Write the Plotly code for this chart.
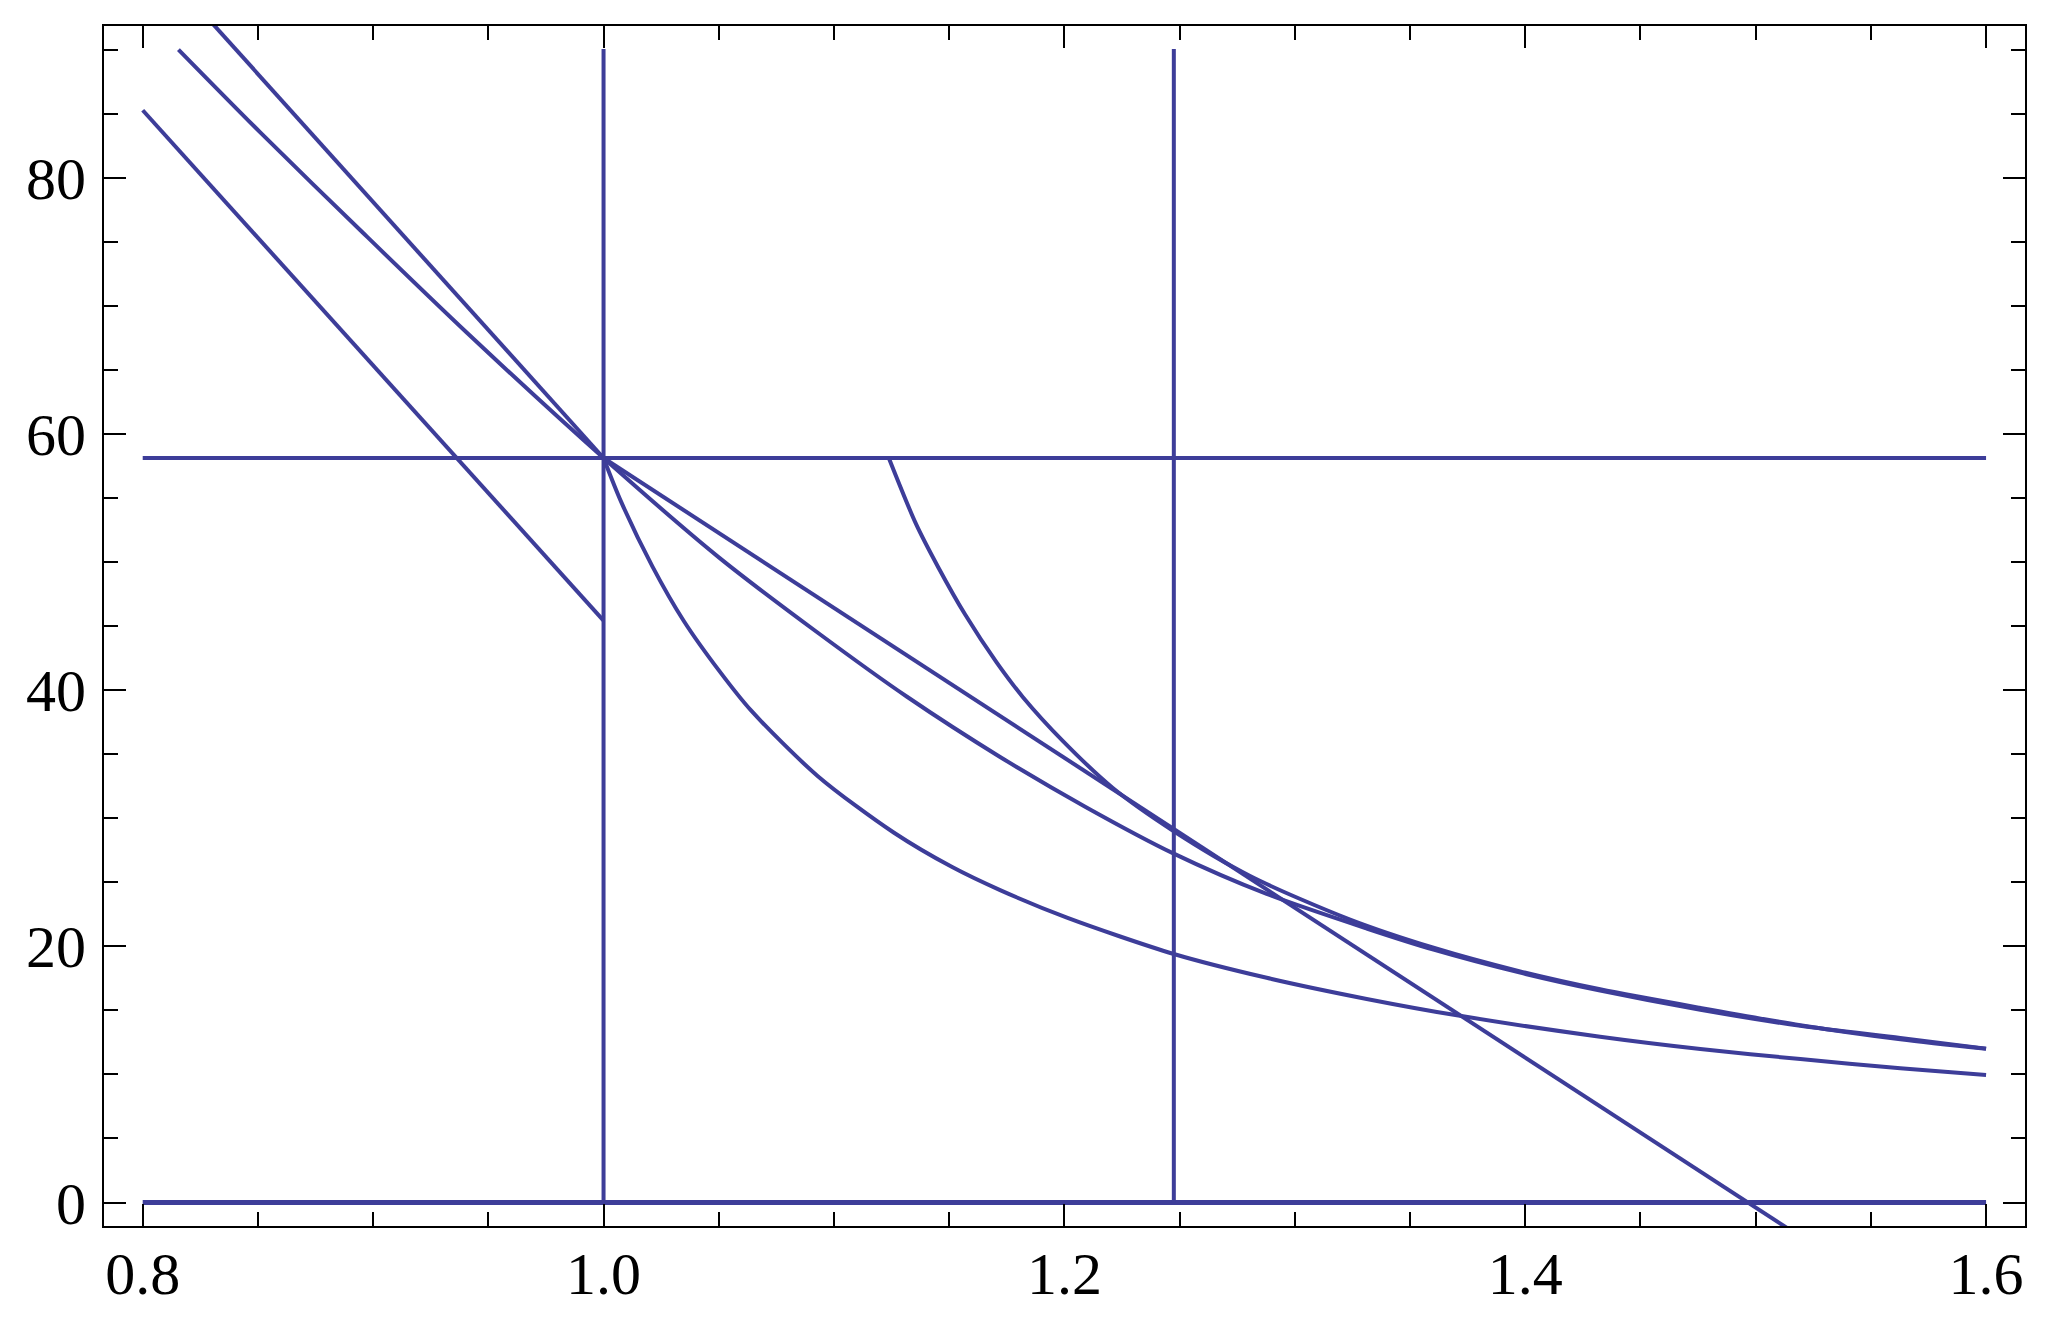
import plotly.graph_objects as go

# values
line_color = '#3D3D99'

# steep straight line through the common point (clipped by the frame at the top)
a_x = [0.8307, 1.0]
a_y = [92.0, 58.15]

# parallel straight line, lower left
c_x = [0.8, 1.0]
c_y = [85.31, 45.45]

# convex curve through the common point
b_x = [0.8155, 0.8509, 0.8958, 0.9406, 1.0, 1.0503, 1.0930, 1.1317, 1.1721, 1.2092,
       1.2475, 1.2878, 1.3312, 1.3602, 1.3978, 1.4325, 1.4760, 1.5194, 1.5628, 1.6]
b_y = [90.05, 83.6, 75.7, 67.95, 58.15, 50.35, 44.5, 39.5, 34.8, 30.9,
       27.25, 24.1, 21.4, 19.75, 17.95, 16.55, 15.05, 13.8, 12.85, 12.02]

# steep convex curve starting at the common point
d_x = [1.0, 1.0077, 1.0213, 1.0349, 1.0503, 1.0639, 1.0930, 1.1259, 1.1513, 1.1721,
       1.2011, 1.2475, 1.2878, 1.3312, 1.3710, 1.4325, 1.4760, 1.5194, 1.5628, 1.6]
d_y = [58.15, 54.7, 49.65, 45.4, 41.5, 38.45, 33.3, 28.9, 26.2, 24.4,
       22.25, 19.41, 17.55, 15.9, 14.6, 12.95, 11.99, 11.2, 10.48, 9.96]

# curve starting on the horizontal line, tangent to the straight line
e_x = [1.1238, 1.1356, 1.1453, 1.1570, 1.1705, 1.1821, 1.1996, 1.2209, 1.2475, 1.2806,
       1.3240, 1.3602, 1.3978, 1.4325, 1.4760, 1.5194, 1.5628, 1.6]
e_y = [58.15, 53.0, 49.6, 45.9, 42.2, 39.45, 36.0, 32.4, 29.0, 25.5,
       22.1, 19.9, 18.05, 16.65, 15.2, 13.85, 12.75, 12.0]

# straight line from the common point down through zero
s_x = [1.0, 1.5157]
s_y = [58.15, -2.23]

# horizontal and vertical reference lines
h_level = 58.15
h_x = [0.8, 1.6]
v_positions = [1.0, 1.2475]
v_y = [0, 90.1]

fig = go.Figure()

for xs, ys in [(a_x, a_y), (c_x, c_y), (s_x, s_y)]:
    fig.add_trace(go.Scatter(x=xs, y=ys, mode='lines',
                             line=dict(color=line_color, width=4)))

for xs, ys in [(b_x, b_y), (d_x, d_y), (e_x, e_y)]:
    fig.add_trace(go.Scatter(x=xs, y=ys, mode='lines',
                             line=dict(color=line_color, width=4, shape='spline', smoothing=0.8)))

# horizontal lines
fig.add_trace(go.Scatter(x=h_x, y=[h_level, h_level], mode='lines',
                         line=dict(color=line_color, width=4)))
fig.add_trace(go.Scatter(x=h_x, y=[0, 0], mode='lines',
                         line=dict(color=line_color, width=5)))

# vertical lines
for xv in v_positions:
    fig.add_trace(go.Scatter(x=[xv, xv], y=v_y, mode='lines',
                             line=dict(color=line_color, width=4)))

axis_common = dict(
    showgrid=False, zeroline=False,
    showline=True, linecolor='black', linewidth=2, mirror='allticks',
    ticks='inside', ticklen=22, tickwidth=2, tickcolor='black',
    tickfont=dict(family='Liberation Serif, Times New Roman, serif', size=60, color='black'),
)

fig.update_xaxes(
    range=[0.7832, 1.6169], tick0=0.8, dtick=0.2, tickformat='.1f',
    minor=dict(ticks='inside', tick0=0.8, dtick=0.05, ticklen=14, tickwidth=2, tickcolor='black'),
    ticklabelstandoff=-6,
    **axis_common
)
fig.update_yaxes(
    range=[-1.835, 91.89], tick0=0, dtick=20,
    minor=dict(ticks='inside', tick0=0, dtick=5, ticklen=14, tickwidth=2, tickcolor='black'),
    ticklabelstandoff=4,
    **axis_common
)

# the page body adds an 8px margin, so the figure is 8px smaller each way
fig.update_layout(
    width=2048, height=1328,
    margin=dict(l=96, r=31, t=18, b=110),
    plot_bgcolor='white', paper_bgcolor='white',
    showlegend=False,
)

fig.write_html("out.html")
